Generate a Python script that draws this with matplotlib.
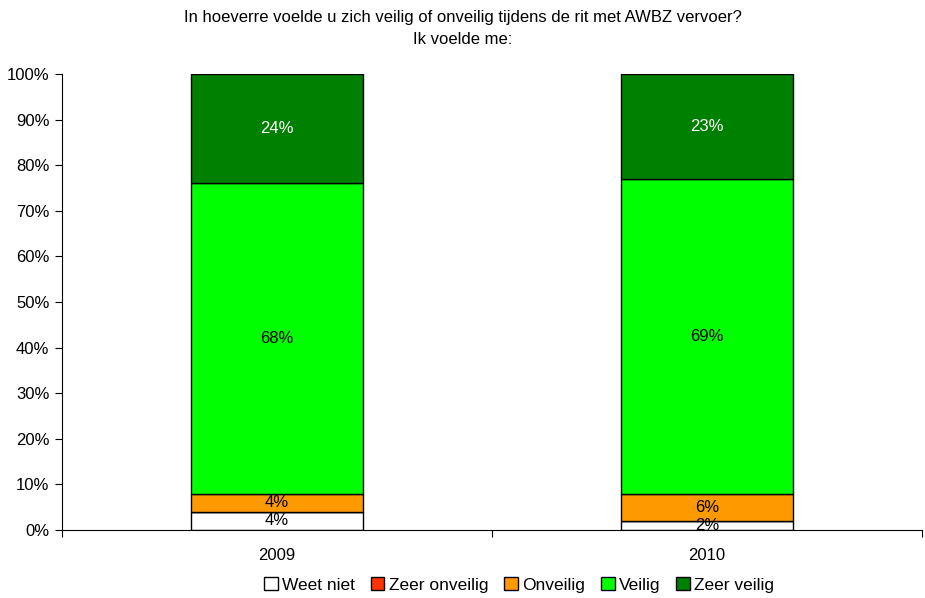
import matplotlib
matplotlib.use("Agg")
import matplotlib.pyplot as plt
from matplotlib.patches import Patch
import numpy as np

plt.rcParams['font.family'] = ['Liberation Sans', 'DejaVu Sans']

years = ['2009', '2010']
series = ['Weet niet', 'Zeer onveilig', 'Onveilig', 'Veilig', 'Zeer veilig']
weet_niet = [4, 2]
zeer_onveilig = [0, 0]
onveilig = [4, 6]
veilig = [68, 69]
zeer_veilig = [24, 23]

values = [weet_niet, zeer_onveilig, onveilig, veilig, zeer_veilig]
colors = ['#FFFFFF', '#FF3300', '#FF9900', '#00FF00', '#008000']
label_colors = ['black', 'black', 'black', 'black', 'white']

fig = plt.figure(figsize=(9.25, 5.98), dpi=100)
ax = fig.add_axes([62 / 925, 68 / 598, 860 / 925, 456 / 598])

x = np.arange(len(years)) + 0.5
bottom = np.zeros(len(years))
for vals, col, lc in zip(values, colors, label_colors):
    vals = np.array(vals, dtype=float)
    ax.bar(x, vals, width=0.4, bottom=bottom, color=col,
           edgecolor='black', linewidth=1.0)
    for xi, b, v in zip(x, bottom, vals):
        if v > 0:
            ax.text(xi, b + v / 2, f'{v:.0f}%', ha='center', va='center',
                    fontsize=12, color=lc)
    bottom += vals

ax.set_xlim(0, 2)
ax.set_ylim(0, 100)
ax.set_yticks(np.arange(0, 101, 10))
ax.set_yticklabels([f'{t}%' for t in range(0, 101, 10)], fontsize=12)
ax.set_xticks([0, 1, 2])
ax.set_xticklabels([])
ax.set_xticks(x, minor=True)
ax.set_xticklabels(years, minor=True, fontsize=12)
ax.tick_params(axis='x', which='minor', length=0, pad=13)
ax.tick_params(axis='x', which='major', length=5, direction='out')
ax.tick_params(axis='y', length=5, direction='out', pad=4)
for side in ['top', 'right']:
    ax.spines[side].set_visible(False)

fig.text(0.5, 1 - 10 / 598, 'In hoeverre voelde u zich veilig of onveilig tijdens de rit met AWBZ vervoer?\nIk voelde me:',
         ha='center', va='top', fontsize=12, linespacing=1.6)

handles = [Patch(facecolor=c, edgecolor='black', linewidth=1.0) for c in colors]
fig.legend(handles, series, loc='center', bbox_to_anchor=(519 / 925, 1 - 585 / 598),
           ncol=5, frameon=False, fontsize=12.5, handlelength=0.8, handleheight=0.8,
           handletextpad=0.25, columnspacing=0.9)

fig.savefig('out.png', dpi=100)
